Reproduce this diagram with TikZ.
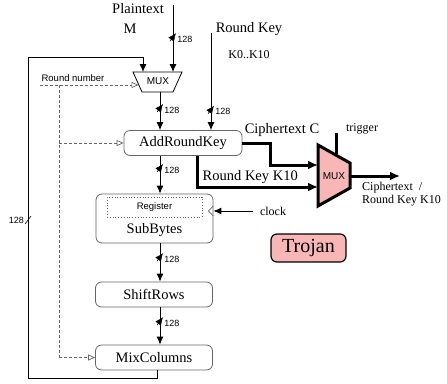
\documentclass[tikz,border=0pt]{standalone}
\usepackage{fontspec}
\setmainfont{Liberation Serif}
\setsansfont{Liberation Sans}
\usetikzlibrary{arrows.meta,positioning,calc}
\definecolor{figgray}{gray}{0.4}
\definecolor{trojanpink}{RGB}{248,182,182}
\newcommand{\blockfont}{\fontsize{14.5}{16}\selectfont}
\newcommand{\notefont}{\fontsize{12}{13}\selectfont}
\newcommand{\tinyfont}{\sffamily\fontsize{9.5}{10}\selectfont}
\newcommand{\busfont}{\sffamily\fontsize{9}{10}\selectfont}
\tikzset{
  block/.style={
    rectangle, rounded corners=6pt, draw=figgray, line width=0.8pt,
    minimum width=117pt, minimum height=25pt, inner sep=0pt,
    font=\blockfont
  },
  regbox/.style={
    rectangle, draw=figgray, dotted, line width=0.8pt,
    minimum width=95pt, minimum height=20pt, inner sep=0pt,
    font=\tinyfont
  },
  trojan/.style={
    rectangle, rounded corners=6pt, draw=black, line width=1.2pt,
    fill=trojanpink, minimum width=75pt, minimum height=28pt,
    font=\fontsize{20}{22}\selectfont
  },
  lbl/.style={inner sep=0pt, font=\blockfont},
  note/.style={inner sep=0pt, font=\notefont},
  tiny/.style={inner sep=0pt, font=\tinyfont},
  muxtext/.style={inner sep=0pt, font=\sffamily\fontsize{10}{11}\selectfont},
  wire/.style={line width=0.9pt, -{Latex[length=8pt,width=7pt]}},
  ctrl/.style={line width=0.7pt, draw=figgray, dash pattern=on 3pt off 2pt,
    -{Triangle[open,length=7pt,width=6pt]}},
  bigwire/.style={line width=3pt, -{Latex[length=10pt,width=9pt]}},
  bus/.pic={
    \draw[line width=0.6pt] (-3pt,-4pt) -- (3pt,4pt);
    \node[inner sep=0pt, font=\busfont, anchor=west] at (4pt,-2pt) {128};
  },
  busleft/.pic={
    \draw[line width=0.6pt] (-3pt,-4pt) -- (3pt,4pt);
    \node[inner sep=0pt, font=\busfont, anchor=east] at (-4pt,0pt) {128};
  }
}

\begin{document}
\begin{tikzpicture}[x=1pt,y=-1pt]
  \useasboundingbox (0,0) rectangle (447,383);

  % Inputs
  \node[lbl] (ptxt) at (138,9) {Plaintext};
  \node[lbl] (ptm) at (130,29) {M};
  \node[lbl] (rkey) at (249,29) {Round Key};
  \node[note] (rkrange) at (249,55) {K0..K10};
  \coordinate (ptin) at (173,5);
  \coordinate (rkin) at (211,33);
  \coordinate (flowx) at (160,0);

  % Round multiplexer
  \coordinate (muxtl) at (133,72);
  \coordinate (muxtr) at (182,72);
  \coordinate (muxbr) at (173,92);
  \coordinate (muxbl) at (142,92);
  \draw[line width=0.8pt] (muxtl) -- (muxtr) -- (muxbr) -- (muxbl) -- cycle;
  \node[muxtext] (mux) at (158,81.5) {MUX};
  \coordinate (muxfb) at (143,72);
  \coordinate (muxin) at (138.5,85);

  % Round datapath
  \node[block, minimum width=118pt] (ark) at (183,143) {AddRoundKey};
  \node[block, minimum height=49pt] (sb) at (154.5,218.5) {};
  \node[regbox] (reg) at (154.5,207) {Register};
  \node[lbl] (sbname) at (154.5,230) {SubBytes};
  \node[block] (sr) at (154,294.5) {ShiftRows};
  \node[block] (mc) at (154,357.5) {MixColumns};

  \draw[wire] (ptin) -- pic[pos=.48]{bus} (ptin |- muxtr);
  \draw[wire] (rkin) -- pic[pos=.79]{bus} (rkin |- ark.north);
  \draw[wire] (muxbl -| flowx) -- pic[pos=.42]{bus} (ark.north -| flowx);
  \draw[wire] (ark.south -| flowx) -- pic[pos=.32]{bus} (sb.north -| flowx);
  \draw[wire] (sb.south -| flowx) -- pic[pos=.36]{bus} (sr.north -| flowx);
  \draw[wire] (sr.south -| flowx) -- pic[pos=.37]{bus} (mc.north -| flowx);

  % Feedback
  \coordinate (fbcorner) at (28,57);
  \draw[wire] ($(mc.south)+(3,0)$) -- ++(0,8) -| (fbcorner) -| (muxfb);
  \pic at (28,220) {busleft};

  % Round number
  \node[tiny] (rnum) at (73,78) {Round number};
  \coordinate (rstart) at (40,85);
  \coordinate (rtap) at (59,85);
  \draw[ctrl] (rstart) -- (muxin);
  \draw[ctrl, -] (rtap) -- (rtap |- mc.west);
  \draw[ctrl] (rtap |- ark.west) -- (ark.west);
  \draw[ctrl] (rtap |- mc.west) -- (mc.west);

  % Clock
  \node[note] (clock) at (273,211) {clock};
  \draw[wire] (clock.west) ++(-7,0) -- (clock.west -| sb.east);
  \draw[line width=0.6pt, draw=figgray] ($(sb.east |- clock)+(0,-5)$)
    -- ++(-5,5) -- ++(5,5);

  % Trojan multiplexer
  \coordinate (tmuxtl) at (318,145);
  \coordinate (tmuxtr) at (350,163);
  \coordinate (tmuxbr) at (350,188);
  \coordinate (tmuxbl) at (318,206);
  \draw[line width=3pt, fill=trojanpink, line join=miter]
    (tmuxtl) -- (tmuxtr) -- (tmuxbr) -- (tmuxbl) -- cycle;
  \node[muxtext] (tmux) at (334,176) {MUX};
  \coordinate (tin1) at (318,165);
  \coordinate (tin2) at (318,187);
  \coordinate (tout) at (350,176);
  \coordinate (cout) at (400,176);
  \coordinate (trigtop) at (336,133);
  \coordinate (trigin) at (336,154);

  \node[lbl] (ctxt) at (282,130) {Ciphertext C};
  \node[note] (trig) at (362,129) {trigger};
  \draw[bigwire] (ark.east) -- ++(28,0) |- (tin1);
  \draw[bigwire] ($(ark.south)+(14,0)$) |- (tin2)
    node[lbl, pos=.72, above=2pt] (rk10) {Round Key K10};
  \draw[line width=3pt] (trigtop) -- (trigin);
  \draw[bigwire] (tout) -- (cout);
  \node[note, align=left, anchor=north west] (outlbl) at (362,182)
    {Ciphertext \ /\\Round Key K10};

  \node[trojan] (troj) at (308.5,248) {Trojan};

\end{tikzpicture}
\end{document}
